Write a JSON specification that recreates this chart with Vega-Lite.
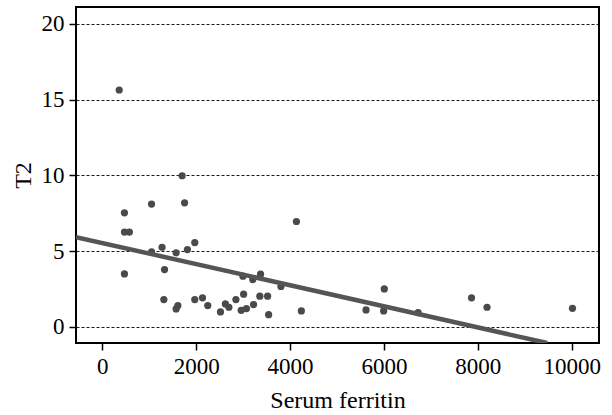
{
  "$schema": "https://vega.github.io/schema/vega-lite/v6.json",
  "width": 523,
  "height": 336,
  "autosize": {"type": "none"},
  "padding": {"left": 76, "top": 7, "right": 13, "bottom": 72},
  "background": "white",
  "config": {
    "font": "Liberation Serif",
    "view": {"stroke": "black", "strokeWidth": 2},
    "axis": {
      "domain": false,
      "tickColor": "black",
      "tickSize": 7,
      "tickWidth": 1.5,
      "labelColor": "black",
      "labelFontSize": 23,
      "labelFont": "Liberation Serif",
      "titleColor": "black",
      "titleFontSize": 24,
      "titleFont": "Liberation Serif",
      "titleFontWeight": "normal"
    }
  },
  "datasets": {
    "pts": [
      {"ferritin": 360, "T2": 15.64},
      {"ferritin": 472, "T2": 7.53},
      {"ferritin": 472, "T2": 6.26},
      {"ferritin": 577, "T2": 6.26},
      {"ferritin": 472, "T2": 3.5},
      {"ferritin": 1049, "T2": 8.11},
      {"ferritin": 1049, "T2": 4.96},
      {"ferritin": 1273, "T2": 5.26},
      {"ferritin": 1326, "T2": 3.79},
      {"ferritin": 1311, "T2": 1.81},
      {"ferritin": 1573, "T2": 4.89},
      {"ferritin": 1573, "T2": 1.19},
      {"ferritin": 1610, "T2": 1.41},
      {"ferritin": 1700, "T2": 9.98},
      {"ferritin": 1753, "T2": 8.19},
      {"ferritin": 1813, "T2": 5.11},
      {"ferritin": 1970, "T2": 5.57},
      {"ferritin": 1970, "T2": 1.81},
      {"ferritin": 2135, "T2": 1.92},
      {"ferritin": 2247, "T2": 1.41},
      {"ferritin": 2517, "T2": 0.99},
      {"ferritin": 2622, "T2": 1.52},
      {"ferritin": 2697, "T2": 1.3},
      {"ferritin": 2846, "T2": 1.81},
      {"ferritin": 2959, "T2": 1.1},
      {"ferritin": 3011, "T2": 2.16},
      {"ferritin": 2996, "T2": 3.35},
      {"ferritin": 3071, "T2": 1.21},
      {"ferritin": 3206, "T2": 3.13},
      {"ferritin": 3221, "T2": 1.48},
      {"ferritin": 3371, "T2": 3.48},
      {"ferritin": 3356, "T2": 2.03},
      {"ferritin": 3521, "T2": 2.03},
      {"ferritin": 3543, "T2": 0.81},
      {"ferritin": 3805, "T2": 2.67},
      {"ferritin": 4135, "T2": 6.96},
      {"ferritin": 4240, "T2": 1.06},
      {"ferritin": 5618, "T2": 1.12},
      {"ferritin": 6007, "T2": 2.51},
      {"ferritin": 5993, "T2": 1.06},
      {"ferritin": 6727, "T2": 0.95},
      {"ferritin": 7865, "T2": 1.92},
      {"ferritin": 8195, "T2": 1.3},
      {"ferritin": 10015, "T2": 1.23}
    ],
    "fit": [
      {"ferritin": -560, "T2": 5.93},
      {"ferritin": 9476, "T2": -1.06}
    ]
  },
  "layer": [
    {
      "data": {"name": "pts"},
      "mark": {"type": "circle", "size": 52, "color": "#4a4a4a", "opacity": 1},
      "encoding": {
        "x": {
          "field": "ferritin",
          "type": "quantitative",
          "scale": {"domain": [-560, 10580], "nice": false, "zero": false},
          "axis": {"values": [0, 2000, 4000, 6000, 8000, 10000], "grid": false, "format": "d", "title": "Serum ferritin", "titlePadding": 10, "labelPadding": 5}
        },
        "y": {
          "field": "T2",
          "type": "quantitative",
          "scale": {"domain": [-1.06, 21.12], "nice": false, "zero": false},
          "axis": {"values": [0, 5, 10, 15, 20], "grid": true, "gridColor": "black", "gridDash": [3, 2], "gridWidth": 0.9, "title": "T2", "titlePadding": 6, "labelPadding": 5}
        }
      }
    },
    {
      "data": {"name": "fit"},
      "mark": {"type": "line", "color": "#555555", "strokeWidth": 4.5, "clip": true},
      "encoding": {
        "x": {"field": "ferritin", "type": "quantitative"},
        "y": {"field": "T2", "type": "quantitative"}
      }
    }
  ]
}
